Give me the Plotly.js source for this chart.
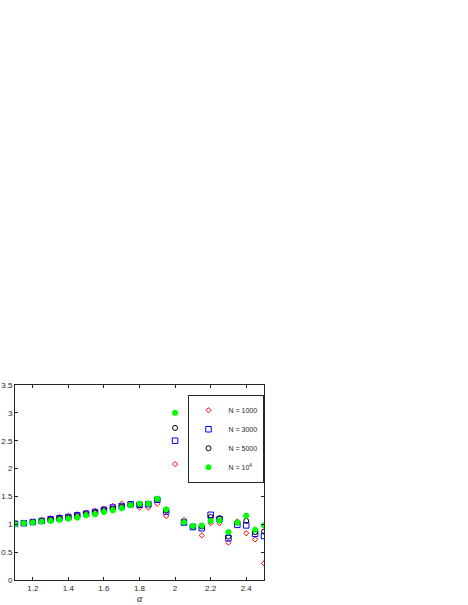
<!DOCTYPE html>
<html>
<head>
<meta charset="utf-8">
<script src="https://cdn.plot.ly/plotly-3.0.1.min.js"></script>
<style>
  html, body { margin: 0; padding: 0; background: #fff; }
  #chart { width: 468px; height: 605px; }
</style>
</head>
<body>
<div id="chart"></div>
<script>
// alpha values
const alpha = [1.1, 1.15, 1.2, 1.25, 1.3, 1.35, 1.4, 1.45, 1.5, 1.55, 1.6, 1.65, 1.7, 1.75, 1.8,
               1.85, 1.9, 1.95, 2.0, 2.05, 2.1, 2.15, 2.2, 2.25, 2.3, 2.35, 2.4, 2.45, 2.5];

const n1000 = [1.01, 1.03, 1.05, 1.08, 1.11, 1.13, 1.15, 1.18, 1.21, 1.24, 1.28, 1.33, 1.37, 1.34, 1.30,
               1.30, 1.37, 1.15, 2.08, 1.08, 0.97, 0.80, 1.02, 1.02, 0.67, 1.05, 0.84, 0.73, 0.30];
const n3000 = [1.01, 1.02, 1.04, 1.06, 1.09, 1.11, 1.13, 1.16, 1.19, 1.22, 1.26, 1.30, 1.32, 1.36, 1.35,
               1.36, 1.44, 1.23, 2.50, 1.03, 0.95, 0.93, 1.17, 1.09, 0.75, 0.99, 0.98, 0.83, 0.79];
const n5000 = [1.01, 1.02, 1.04, 1.06, 1.08, 1.10, 1.12, 1.15, 1.18, 1.21, 1.25, 1.28, 1.31, 1.35, 1.36,
               1.37, 1.45, 1.25, 2.73, 1.04, 0.96, 0.96, 1.13, 1.11, 0.78, 1.03, 1.06, 0.86, 0.87];
const n10k  = [1.00, 1.02, 1.03, 1.05, 1.06, 1.08, 1.10, 1.12, 1.16, 1.18, 1.22, 1.25, 1.29, 1.34, 1.37,
               1.37, 1.46, 1.27, 3.00, 1.035, 0.97, 0.98, 1.06, 1.07, 0.86, 1.03, 1.155, 0.90, 0.98];

const series = [
  { name: "N = 1000", y: n1000, symbol: "diamond-open", color: "#ff0000", size: 4 },
  { name: "N = 3000", y: n3000, symbol: "square-open", color: "#0000ff", size: 5.5 },
  { name: "N = 5000", y: n5000, symbol: "circle-open", color: "#000000", size: 5 },
  { name: "N = 10<sup>4</sup>", y: n10k, symbol: "asterisk-open", color: "#00ff00", size: 5 }
];

const traces = series.map(s => ({
  x: alpha,
  y: s.y,
  mode: "markers",
  type: "scatter",
  name: s.name,
  marker: { symbol: s.symbol, size: s.size, color: s.color, line: { color: s.color, width: s.symbol === "asterisk-open" ? 2 : 1 } }
}));

const axisStyle = {
  showline: true,
  mirror: "ticks",
  linecolor: "#262626",
  linewidth: 1,
  ticks: "inside",
  ticklen: 3,
  tickcolor: "#262626",
  showgrid: false,
  zeroline: false,
  tickfont: { family: "Liberation Sans, Arial, sans-serif", size: 8, color: "#262626" }
};

const layout = {
  width: 468,
  height: 605,
  margin: { l: 15, r: 204, t: 385, b: 25 },
  paper_bgcolor: "#ffffff",
  plot_bgcolor: "#ffffff",
  showlegend: true,
  xaxis: Object.assign({}, axisStyle, {
    range: [1.1, 2.5],
    tickvals: [1.2, 1.4, 1.6, 1.8, 2, 2.2, 2.4],
    ticktext: ["1.2", "1.4", "1.6", "1.8", "2", "2.2", "2.4"]
  }),
  yaxis: Object.assign({}, axisStyle, {
    range: [0, 3.5],
    tickvals: [0, 0.5, 1, 1.5, 2, 2.5, 3, 3.5],
    ticktext: ["0", "0.5", "1", "1.5", "2", "2.5", "3", "3.5"]
  }),
  // x axis label
  annotations: [{
    text: "<i>α</i>", xref: "paper", yref: "paper", x: 0.5, y: 0,
    xanchor: "center", yanchor: "top", yshift: -12, showarrow: false, borderpad: 0,
    font: { family: "Liberation Serif, serif", size: 10, color: "#262626" }
  }],
  legend: {
    x: 0.998, y: 0.95, xanchor: "right", yanchor: "top",
    bordercolor: "#262626", borderwidth: 1,
    bgcolor: "#ffffff",
    font: { family: "Liberation Sans, Arial, sans-serif", size: 7, color: "#262626" },
    itemwidth: 30
  }
};

Plotly.newPlot("chart", traces, layout, { displayModeBar: false, staticPlot: true });
</script>
</body>
</html>
